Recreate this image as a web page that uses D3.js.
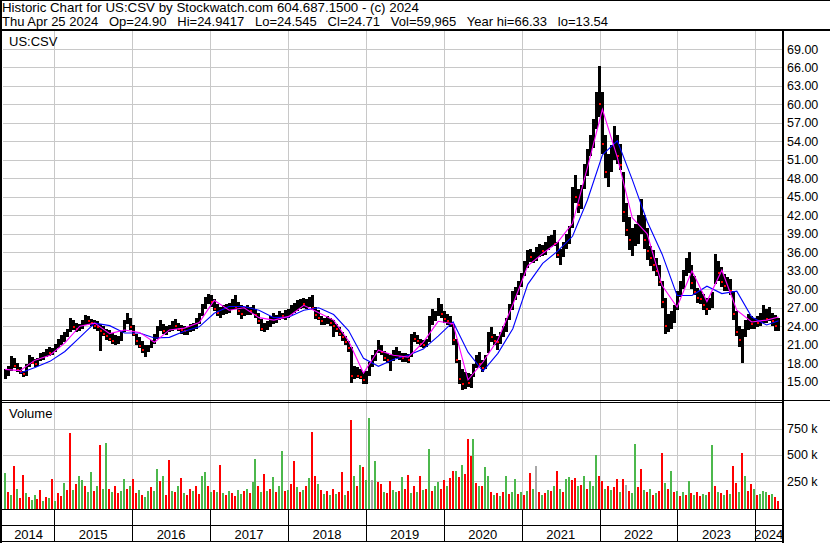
<!DOCTYPE html>
<html lang="en">
<head>
<meta charset="utf-8">
<title>Historic Chart for US:CSV</title>
<script src="https://cdn.jsdelivr.net/npm/d3@7"></script>
<style>
  body { margin: 0; background: #fff; }
  svg text { font-family: "Liberation Sans", Arial, sans-serif; fill: #000; }
  .grid line { stroke: #c8c8c8; }
  .grid path { display: none; }
</style>
</head>
<body>
<script>
var w = 830, h = 543;

// one bar every two weeks, starting May 9 2014
var highs = [
  17.0,17.5,19.2,18.8,18.0,17.4,16.8,17.8,19.3,19.0,
  18.7,18.9,19.6,19.9,20.3,20.6,20.4,21.2,22.0,22.6,
  23.0,23.6,25.3,25.0,24.6,24.4,25.0,25.8,25.6,25.2,
  25.0,24.8,24.4,24.0,23.6,23.4,22.9,22.6,22.4,23.2,
  25.0,26.2,25.4,24.2,22.8,22.2,21.6,21.0,21.0,21.8,
  22.8,24.0,25.0,24.4,24.0,24.2,24.8,25.2,24.6,24.2,
  24.0,23.8,24.4,24.6,25.4,26.2,27.6,28.8,29.2,29.0,
  28.4,27.6,27.2,27.4,27.6,27.8,28.4,29.0,28.0,27.4,
  27.2,27.4,27.2,27.4,26.8,26.2,25.2,24.6,24.8,25.6,
  26.2,25.8,26.4,26.2,26.6,26.8,27.4,27.8,28.2,28.4,
  28.6,28.4,28.8,29.1,27.2,26.6,25.6,25.4,25.6,25.4,
  25.0,24.4,23.8,23.0,22.4,21.6,20.6,17.6,17.4,17.0,
  16.6,16.8,18.2,19.4,20.2,21.7,21.0,20.0,19.6,19.4,
  20.2,20.6,20.0,19.7,19.6,19.5,22.8,23.0,22.6,22.0,
  21.8,22.0,25.6,26.8,26.4,28.6,27.6,26.4,26.0,25.6,
  24.4,22.0,18.6,17.0,16.6,16.4,16.2,17.8,19.4,19.8,
  18.6,19.4,23.0,23.8,22.8,22.4,23.0,24.0,25.4,27.6,
  29.8,30.4,31.4,32.6,34.6,36.4,36.6,36.0,36.8,37.4,
  37.2,37.6,38.6,38.8,39.6,37.6,36.6,37.6,39.0,40.2,
  46.6,48.6,46.2,47.0,50.4,52.8,55.0,57.6,62.0,66.3,
  62.0,55.0,52.0,53.4,56.5,55.0,53.6,49.0,44.0,41.8,
  40.0,40.6,42.0,44.7,42.0,40.0,37.0,36.4,35.0,34.0,
  31.4,28.6,26.0,26.4,27.4,29.8,31.4,33.2,35.0,36.1,
  34.0,32.2,30.2,29.8,29.2,28.6,28.6,29.6,35.7,34.6,
  33.6,32.4,32.0,31.6,29.8,26.4,24.0,23.6,25.0,26.0,
  25.6,25.4,25.6,26.2,27.4,26.8,27.2,26.2,25.8,25.4
];
var lows = [
  15.5,16.0,16.8,17.2,16.6,16.2,15.8,16.0,17.4,17.8,
  17.4,17.6,18.3,18.6,19.0,19.2,19.4,19.8,20.4,21.0,
  21.4,22.2,23.0,23.4,23.0,23.2,23.6,24.2,24.4,24.0,
  23.6,23.2,20.0,22.4,21.8,21.6,21.2,21.0,21.2,21.6,
  23.0,24.4,23.4,22.4,21.0,20.4,19.6,19.0,19.8,20.4,
  21.2,22.0,23.2,22.8,22.6,23.0,23.2,23.6,23.2,22.8,
  22.6,22.6,23.0,23.2,23.6,24.4,25.6,26.8,27.6,27.2,
  26.4,25.6,25.4,25.8,26.0,26.2,26.6,26.8,25.8,25.2,
  25.6,25.8,25.8,26.0,25.4,24.4,23.2,23.0,23.4,23.8,
  24.4,24.6,25.0,25.2,25.0,25.4,25.8,26.2,26.4,26.8,
  27.0,26.8,27.2,26.6,25.2,25.0,24.2,24.2,24.4,24.0,
  22.2,23.0,22.4,21.6,21.0,19.8,14.8,15.4,15.6,15.4,
  14.6,14.6,16.0,17.4,18.4,19.6,19.4,18.4,18.0,16.8,
  18.4,18.8,18.6,18.2,18.2,18.0,19.0,21.4,21.2,20.6,
  20.4,20.6,21.4,24.2,24.8,25.6,25.4,24.6,24.2,23.8,
  21.0,18.0,14.6,13.6,13.8,14.2,14.0,15.8,17.2,17.4,
  16.6,17.0,19.6,21.4,21.0,20.2,21.2,22.2,23.0,25.0,
  26.6,28.2,29.0,30.4,32.2,33.4,34.4,34.2,34.6,35.2,
  35.4,35.6,36.4,36.8,37.0,35.0,34.0,35.2,36.6,37.4,
  40.0,44.0,42.4,43.0,46.2,48.4,51.6,53.0,56.0,58.0,
  52.0,48.0,46.6,49.0,51.0,50.4,49.4,41.0,38.6,36.4,
  35.4,37.0,37.4,39.0,36.6,34.8,33.8,33.0,32.2,30.6,
  27.0,22.8,23.0,23.6,24.6,26.6,28.8,30.0,32.2,32.6,
  30.0,29.0,27.8,27.6,26.6,25.8,26.6,27.0,30.8,31.4,
  30.4,29.8,29.8,29.0,25.0,22.4,20.6,18.0,22.2,23.4,
  23.6,23.6,23.8,24.0,24.6,24.6,24.8,24.0,23.2,23.2
];
var closes = [
  16.2,17.2,18.6,17.6,16.9,16.5,16.2,17.6,18.4,18.0,
  17.8,18.6,19.2,19.4,19.8,19.6,20.0,20.8,21.6,22.2,
  22.6,23.4,24.6,23.8,23.6,24.0,24.6,25.2,24.8,24.6,
  24.0,23.8,23.2,22.8,22.4,22.0,21.6,21.6,22.0,22.8,
  24.6,25.2,23.8,22.8,21.6,20.8,20.2,20.2,20.6,21.4,
  22.2,23.4,23.8,23.2,23.6,23.8,24.2,24.0,23.6,23.4,
  23.2,23.6,24.0,24.2,25.0,25.8,27.2,28.2,28.4,28.0,
  26.8,26.2,26.4,26.8,27.0,27.2,27.6,27.2,26.4,26.0,
  26.6,26.8,26.4,26.6,25.8,24.8,23.6,23.8,24.4,25.0,
  25.4,25.6,25.8,25.6,26.2,26.4,27.0,27.4,27.6,27.8,
  27.6,27.8,28.2,27.0,25.8,25.4,24.8,24.8,25.0,24.6,
  24.0,23.6,22.8,22.2,21.4,20.4,16.0,16.4,16.0,15.8,
  15.2,16.2,17.8,18.8,19.8,20.6,19.8,18.8,18.6,19.0,
  19.6,19.6,19.0,18.8,19.0,18.6,22.2,22.0,21.6,21.2,
  21.0,21.6,24.8,25.4,25.8,26.6,26.0,25.2,24.8,24.4,
  21.8,18.6,15.4,14.6,15.2,14.8,15.6,17.2,18.4,17.8,
  17.2,18.8,22.4,22.2,21.6,21.4,22.6,23.4,25.0,27.0,
  28.6,29.6,30.8,32.2,34.0,35.4,35.2,35.4,36.2,36.6,
  36.2,37.0,37.8,38.0,37.4,35.6,35.8,37.0,38.4,39.8,
  45.6,45.0,43.6,46.4,49.4,51.8,54.2,56.6,60.4,60.0,
  53.6,49.0,50.6,52.4,53.8,51.6,50.2,42.6,39.6,38.0,
  38.4,39.4,40.6,41.0,38.0,36.2,35.0,34.0,33.0,31.2,
  28.0,24.0,24.6,25.2,26.8,29.0,30.6,32.4,33.8,34.4,
  31.0,29.6,28.6,28.4,27.4,26.8,27.6,29.2,33.6,32.6,
  31.2,30.6,30.8,29.8,26.0,23.0,21.8,22.6,24.4,24.8,
  24.4,24.8,24.6,25.4,25.6,25.2,25.6,24.8,24.0,24.71
];
// volume in thousands of shares
var volumes = [
  330,150,120,390,180,90,310,140,100,70,
  120,80,170,60,100,90,270,60,140,110,
  230,170,710,170,220,300,260,200,150,335,
  160,200,595,180,617,180,150,200,140,160,
  270,180,200,270,140,170,120,100,160,190,
  160,363,250,300,120,450,160,150,200,280,
  140,120,180,160,200,130,300,335,200,150,
  170,150,400,140,120,160,140,110,170,130,
  160,180,140,240,456,200,150,316,160,180,
  290,150,200,540,160,170,220,437,190,150,
  170,200,280,716,300,220,170,130,160,120,
  180,130,150,335,120,160,828,300,200,400,
  380,260,846,260,440,240,220,150,140,250,
  170,150,160,290,180,310,140,200,150,300,
  170,180,560,160,200,240,180,260,200,280,
  350,350,290,400,320,650,490,650,230,200,
  200,380,300,150,120,140,110,150,300,130,
  150,270,130,150,120,160,330,180,390,150,
  120,140,170,160,200,350,180,150,270,290,
  260,280,200,210,300,180,250,200,500,300,
  250,180,200,170,190,270,150,270,210,160,
  140,605,190,363,170,150,180,120,140,160,
  520,230,180,350,150,160,110,150,120,250,
  140,120,150,110,130,120,150,590,200,150,
  140,120,170,130,390,230,150,520,300,160,
  220,180,120,130,160,150,120,130,100,60
];
// g = up, r = down, n = unchanged
var volDirs =
  "grgrgrrgrg" + "grrgrgrgrr" + "grrgrggrgg" + "rgrggrgrrg" + "grgrrgrggr" +
  "ggrgrrgrgr" + "grrgrrggrg" + "rgrgrgrrgg" + "rgrggrgrgr" + "grggrgrrgr" +
  "grgrrgrgrg" + "rgrrgrrgrg" + "rggngrrgrr" + "ggrgrrgrgr" + "grgrggrrgr" +
  "rgrgrrrgrg" + "rggrgrgrgr" + "ggrgrgrgnr" + "grgrgrgrgg" + "rrgrgrgggr" +
  "rgrgrrgrnr" + "ggrrgrgrgr" + "rgrgrgrgrg" + "rgrrggrgrg" + "rgrgrrgrgr" +
  "rgrgggrgrr";

// moving averages, read at every 5th bar (last point = last bar)
var fastMA = [
  17.0,16.8,18.5,19.3,21.3,24.0,24.5,22.8,23.4,23.0,
  21.4,23.4,23.7,24.6,28.2,26.6,27.0,25.4,25.0,25.6,
  27.4,26.2,25.0,21.6,16.4,20.1,19.3,19.0,21.4,24.8,
  24.4,15.3,18.2,21.8,27.5,33.8,35.8,37.6,40.7,49.8,
  59.2,51.4,41.6,39.0,30.6,27.1,33.0,28.0,33.1,26.6,
  24.7,25.0,25.5
];
var slowMA = [
  null,16.4,17.3,18.3,19.9,22.2,24.5,24.1,22.9,22.9,
  22.1,22.2,23.2,23.9,26.1,27.2,27.2,26.6,25.4,25.5,
  26.6,27.0,25.9,23.3,18.8,17.5,18.6,19.3,20.3,22.4,
  24.7,19.8,16.7,19.6,23.6,30.8,34.2,36.2,38.6,44.5,
  51.8,54.1,47.8,41.0,35.7,29.0,29.0,30.5,29.3,29.7,
  25.5,24.2,24.9
];

var priceTicks = [15,18,21,24,27,30,33,36,39,42,45,48,51,54,57,60,63,66,69];
var volTicks = [250000, 500000, 750000];
var years = [2014,2015,2016,2017,2018,2019,2020,2021,2022,2023,2024];

var title1 = "Historic Chart for US:CSV by Stockwatch.com 604.687.1500 - (c) 2024";
var title2 = "Thu Apr 25 2024   Op=24.90   Hi=24.9417   Lo=24.545   Cl=24.71   Vol=59,965   Year hi=66.33   lo=13.54";

var start = new Date(2014, 4, 9);
var dates = highs.map(function(d, i) { return d3.timeDay.offset(start, 14 * i); });

var left = 3, right = 782;
var priceTop = 31, priceBottom = 400, volTop = 403, volBottom = 509;

var x = d3.scaleTime()
          .domain([new Date(2014, 4, 6), new Date(2024, 4, 5)])
          .range([left, right]);
var y = d3.scaleLinear().domain([15, 69]).range([381.7, 49]);
var yVol = d3.scaleLinear().domain([0, 750000]).range([507.5, 428.5]);

var svg = d3.select("body").append("svg")
            .attr("width", w)
            .attr("height", h);

svg.append("rect").attr("width", w).attr("height", h).attr("fill", "#fff");

// header lines, sized to the width they take in the original
svg.append("text").attr("x", 2).attr("y", 12).attr("font-size", "13.3px")
   .style("white-space", "pre")
   .text(title1);
svg.append("text").attr("x", 2).attr("y", 26).attr("font-size", "13px")
   .style("white-space", "pre")
   .text(title2);

// gridlines
var yearStarts = years.slice(1).map(function(yr) { return new Date(yr, 0, 1); });

svg.append("g").attr("class", "grid")
   .attr("transform", "translate(0," + priceTop + ")")
   .call(d3.axisBottom(x).tickValues(yearStarts).tickSize(volBottom - priceTop).tickFormat(""))
   .call(function(g) { g.selectAll("line").attr("shape-rendering", "crispEdges"); });

svg.append("g").attr("class", "grid")
   .attr("transform", "translate(" + right + ",0)")
   .call(d3.axisLeft(y).tickValues(priceTicks).tickSize(right - left).tickFormat(""))
   .call(function(g) { g.selectAll("line").attr("shape-rendering", "crispEdges"); });

svg.append("g").attr("class", "grid")
   .attr("transform", "translate(" + right + ",0)")
   .call(d3.axisLeft(yVol).tickValues(volTicks).tickSize(right - left).tickFormat(""))
   .call(function(g) { g.selectAll("line").attr("shape-rendering", "crispEdges"); });

// price bars
var bars = svg.append("g").attr("shape-rendering", "crispEdges");
bars.selectAll("rect.hl")
    .data(highs)
    .enter()
    .append("rect")
    .attr("class", "hl")
    .attr("x", function(d, i) { return Math.round(x(dates[i])); })
    .attr("y", function(d) { return y(d); })
    .attr("width", 3)
    .attr("height", function(d, i) { return Math.max(1, y(lows[i]) - y(d)); })
    .attr("fill", "#000");

// red mark at the close of each down bar
var downIdx = d3.range(1, closes.length).filter(function(i) { return closes[i] < closes[i - 1]; });
bars.selectAll("rect.cl")
    .data(downIdx)
    .enter()
    .append("rect")
    .attr("class", "cl")
    .attr("x", function(i) { return Math.round(x(dates[i])) + 1; })
    .attr("y", function(i) { return y(closes[i]) - 1; })
    .attr("width", 2)
    .attr("height", 2)
    .attr("fill", "#ff0000");

// moving averages
function maDate(k) { return dates[Math.min(5 * k, dates.length - 1)]; }
var line = d3.line()
             .defined(function(d) { return d != null; })
             .x(function(d, k) { return x(maDate(k)) + 1.5; })
             .y(function(d) { return y(d); });

svg.append("path").datum(slowMA)
   .attr("d", line).attr("fill", "none")
   .attr("stroke", "#0000ff").attr("stroke-width", 1.1);
svg.append("path").datum(fastMA)
   .attr("d", line).attr("fill", "none")
   .attr("stroke", "#ff00ff").attr("stroke-width", 1.1);

// volume bars
var volColor = { g: "#4cb84c", r: "#ff0000", n: "#a8a8a8" };
svg.append("g").attr("shape-rendering", "crispEdges")
   .selectAll("rect")
   .data(volumes)
   .enter()
   .append("rect")
   .attr("x", function(d, i) { return Math.round(x(dates[i])); })
   .attr("y", function(d) { return yVol(d * 1000); })
   .attr("width", 2)
   .attr("height", function(d) { return volBottom - yVol(d * 1000); })
   .attr("fill", function(d, i) { return volColor[volDirs.charAt(i)]; });

// frame lines
function hline(x1, x2, yy, wdt) {
    svg.append("rect").attr("x", x1).attr("y", yy).attr("width", x2 - x1)
       .attr("height", wdt || 1).attr("fill", "#000");
}
function vline(xx, y1, y2, wdt) {
    svg.append("rect").attr("x", xx).attr("y", y1).attr("width", wdt || 1)
       .attr("height", y2 - y1).attr("fill", "#000");
}
hline(0, w, 0, 1);
hline(0, w, 29, 2);
hline(0, right, 400, 1);
hline(0, right, 402, 1);
hline(right, w, 400, 1);
hline(0, right, volBottom, 1);
hline(0, right, 525, 1);
hline(0, right, 541, 1);
vline(0, 0, h, 2);
vline(right, 29, h, 2);

// year separators in the bottom bands
yearStarts.forEach(function(d) {
    vline(Math.round(x(d)), volBottom, 542, 1);
});

// year labels
var edges = [left].concat(yearStarts.map(function(d) { return x(d); })).concat([right]);
svg.append("g").selectAll("text")
   .data(years)
   .enter()
   .append("text")
   .attr("x", function(d, i) { return (edges[i] + edges[i + 1]) / 2; })
   .attr("y", 539)
   .attr("text-anchor", "middle")
   .attr("font-size", "13px")
   .text(function(d) { return d; });

// right axis labels
var pAxis = svg.append("g")
   .attr("transform", "translate(" + (right + 2) + ",0)")
   .call(d3.axisRight(y).tickValues(priceTicks).tickSize(0).tickPadding(3)
           .tickFormat(d3.format(".2f")));
pAxis.select(".domain").remove();
pAxis.selectAll("text").attr("font-size", "12.5px").attr("font-family", null).attr("fill", "#000");

var vAxis = svg.append("g")
   .attr("transform", "translate(" + (right + 2) + ",0)")
   .call(d3.axisRight(yVol).tickValues(volTicks).tickSize(0).tickPadding(3)
           .tickFormat(function(d) { return (d / 1000) + " k"; }));
vAxis.select(".domain").remove();
vAxis.selectAll("text").attr("font-size", "12.5px").attr("font-family", null).attr("fill", "#000");

// panel titles
svg.append("text").attr("x", 9).attr("y", 46).attr("font-size", "13px").text("US:CSV");
svg.append("text").attr("x", 9).attr("y", 418).attr("font-size", "13px").text("Volume");
</script>
</body>
</html>
